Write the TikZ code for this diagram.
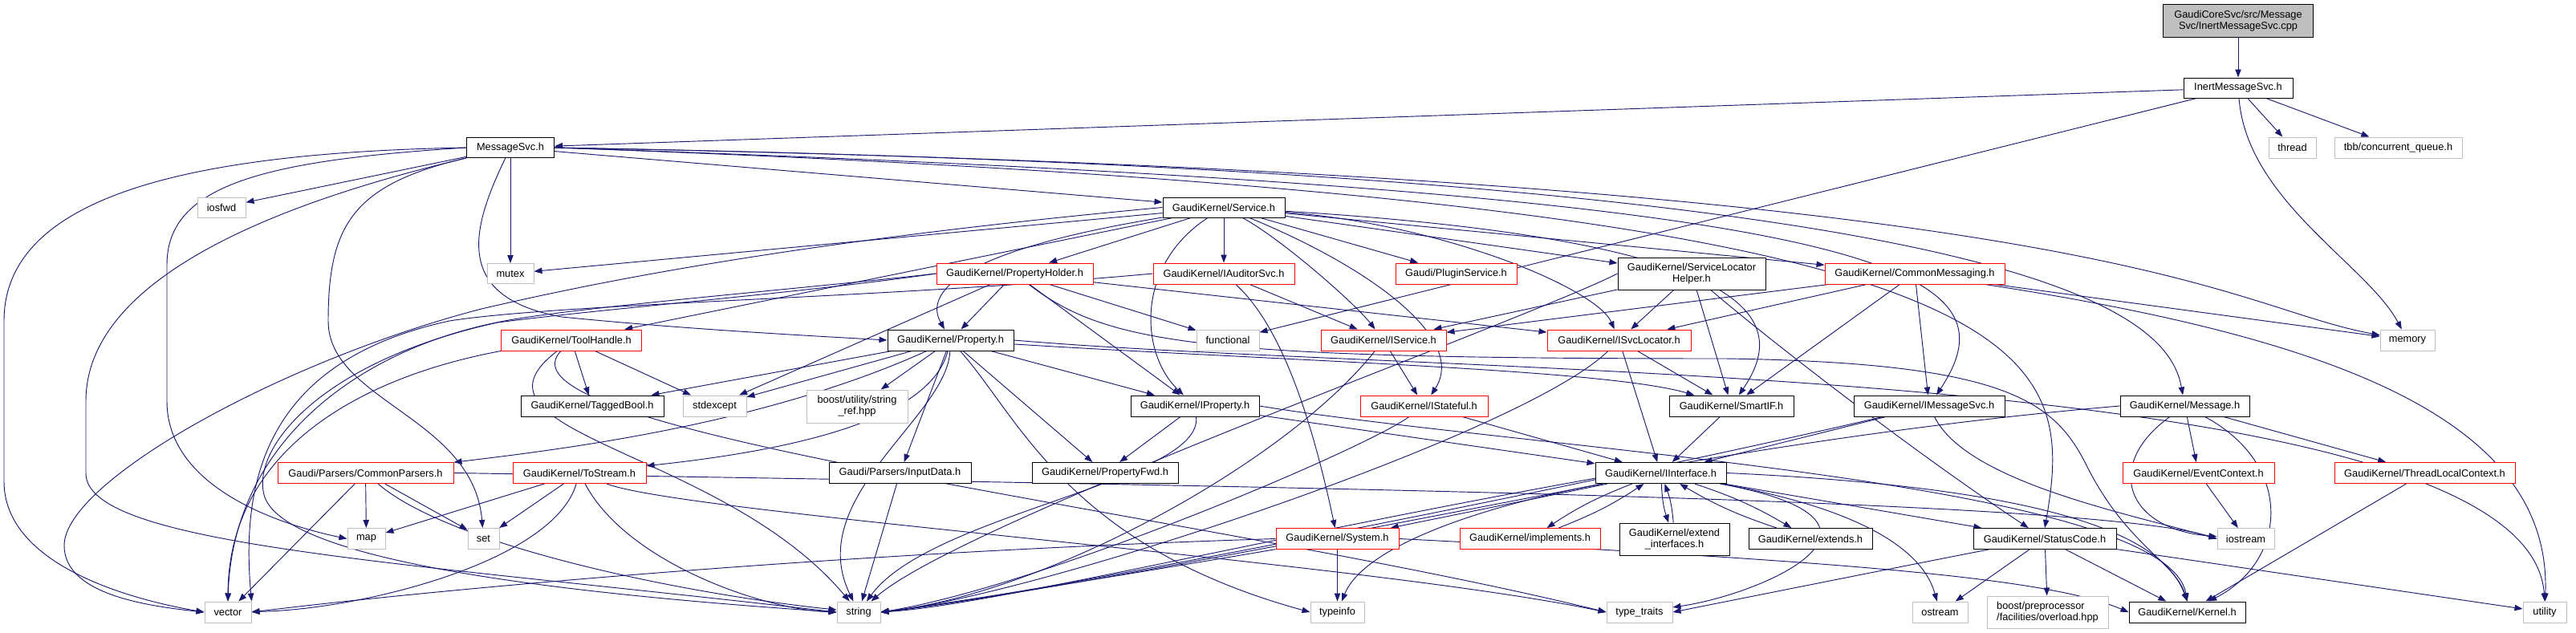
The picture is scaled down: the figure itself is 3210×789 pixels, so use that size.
\documentclass[tikz,border=0pt]{standalone}
\usepackage{fontspec}
\setmainfont{Liberation Sans}
\usetikzlibrary{arrows.meta}
\definecolor{edgec}{HTML}{191970}
\definecolor{graybd}{HTML}{BFBFBF}
\pgfdeclarelayer{bglayer}
\pgfdeclarelayer{edgelayer}
\pgfsetlayers{bglayer,edgelayer,main}
\tikzset{
 wd/.style={minimum width=#1*0.75pt},
 ht/.style={minimum height=#1*0.75pt},
 box/.style={rectangle, inner sep=0pt, fill=white, line width=0.75pt, align=center, text=black, minimum height=19.5pt},
 nb/.style={box, draw=black},
 nr/.style={box, draw=red},
 ng/.style={box, draw=graybd},
 nroot/.style={box, draw=black, fill=graybd},
 edg/.style={draw=edgec, line width=0.7pt, -{Triangle[length=7.5pt,width=5.5pt]}},
}
\begin{document}
\begin{tikzpicture}[x=0.75pt,y=-0.75pt,font=\fontsize{9.6}{10.7}\selectfont]
\begin{pgfonlayer}{bglayer}
\fill[white] (0,0) rectangle (3210,789);
\end{pgfonlayer}
\useasboundingbox (0,0) rectangle (3210,789);
% row A-C
\node[nroot, wd=187, ht=41] (cpp) at (2789,26) {GaudiCoreSvc/src/Message\\Svc/InertMessageSvc.cpp};
\node[nb, wd=136, ht=25] (inert) at (2789,109.5) {InertMessageSvc.h};
\node[ng, wd=59] (thread) at (2856.5,184) {thread};
\node[ng, wd=159] (tbb) at (2988.5,184) {tbb/concurrent\_queue.h};
\node[nb, wd=109, ht=25] (msvc) at (636,184) {MessageSvc.h};
% row D
\node[ng, wd=60, ht=25] (iosfwd) at (276,258.5) {iosfwd};
\node[nb, wd=152, ht=25] (service) at (1525,258.5) {GaudiKernel/Service.h};
% row E
\node[ng, wd=58, ht=25] (mutex) at (636,341) {mutex};
\node[nr, wd=195] (pholder) at (1264.5,341) {GaudiKernel/PropertyHolder.h};
\node[nr, wd=176] (iaud) at (1525,341) {GaudiKernel/IAuditorSvc.h};
\node[nr, wd=151] (plugin) at (1814.5,341) {Gaudi/PluginService.h};
\node[nb, wd=184, ht=40] (slh) at (2108,341) {GaudiKernel/ServiceLocator\\Helper.h};
\node[nr, wd=224] (cmsg) at (2386,341) {GaudiKernel/CommonMessaging.h};
% row F
\node[nr, wd=175] (toolh) at (712,424) {GaudiKernel/ToolHandle.h};
\node[nb, wd=157] (prop) at (1184.5,424) {GaudiKernel/Property.h};
\node[ng, wd=78] (functional) at (1530,424) {functional};
\node[nr, wd=156] (iserv) at (1724,424) {GaudiKernel/IService.h};
\node[nr, wd=179] (isvcl) at (2017.5,424) {GaudiKernel/ISvcLocator.h};
\node[ng, wd=68] (memory) at (3000,424) {memory};
% row G
\node[nb, wd=178] (tagged) at (738,506) {GaudiKernel/TaggedBool.h};
\node[ng, wd=79] (stdexcept) at (890.5,506) {stdexcept};
\node[ng, wd=126, ht=41] (bref) at (1068,506.5) {boost/utility/string\\\_ref.hpp};
\node[nb, wd=160] (iprop) at (1489,506) {GaudiKernel/IProperty.h};
\node[nr, wd=159] (istate) at (1774.5,506) {GaudiKernel/IStateful.h};
\node[nb, wd=155] (smartif) at (2157.5,506) {GaudiKernel/SmartIF.h};
\node[nb, wd=188] (imsg) at (2404,506) {GaudiKernel/IMessageSvc.h};
\node[nb, wd=161] (message) at (2722.5,506) {GaudiKernel/Message.h};
% row H
\node[nr, wd=219] (cparsers) at (455.5,589.5) {Gaudi/Parsers/CommonParsers.h};
\node[nr, wd=166] (tostream) at (722,589.5) {GaudiKernel/ToStream.h};
\node[nb, wd=177] (input) at (1121.5,589.5) {Gaudi/Parsers/InputData.h};
\node[nb, wd=182] (pfwd) at (1377,589.5) {GaudiKernel/PropertyFwd.h};
\node[nb, wd=163] (iiface) at (2069.5,589.5) {GaudiKernel/IInterface.h};
\node[nr, wd=189] (evctx) at (2739.5,589.5) {GaudiKernel/EventContext.h};
\node[nr, wd=225] (tlctx) at (3021.5,589.5) {GaudiKernel/ThreadLocalContext.h};
% row I
\node[ng, wd=47] (map) at (456.5,671.5) {map};
\node[ng, wd=39] (set) at (602.5,671.5) {set};
\node[nr, wd=153] (system) at (1666.5,671.5) {GaudiKernel/System.h};
\node[nr, wd=175] (implements) at (1906.5,671.5) {GaudiKernel/implements.h};
\node[nb, wd=137, ht=40] (extendif) at (2086.5,672) {GaudiKernel/extend\\\_interfaces.h};
\node[nb, wd=154] (extends) at (2256,671.5) {GaudiKernel/extends.h};
\node[nb, wd=178] (statuscode) at (2548,671.5) {GaudiKernel/StatusCode.h};
\node[ng, wd=71] (iostream) at (2798.5,671.5) {iostream};
% row J
\node[ng, wd=58] (vector) at (284,763) {vector};
\node[ng, wd=54] (string) at (1070,763) {string};
\node[ng, wd=67] (typeinfo) at (1666.5,763) {typeinfo};
\node[ng, wd=82] (typetraits) at (2043,763) {type\_traits};
\node[ng, wd=69] (ostream) at (2417.5,763) {ostream};
\node[ng, wd=151, ht=40, align=left] (boostpp) at (2551.5,763) {boost/preprocessor\\/facilities/overload.hpp};
\node[nb, wd=145] (kernel) at (2725.5,763) {GaudiKernel/Kernel.h};
\node[ng, wd=54] (utility) at (3171,763) {utility};

\begin{pgfonlayer}{edgelayer}
% cpp / InertMessageSvc
\draw[edg] (cpp) -- (inert);
\draw[edg] (inert) -- (msvc);
\draw[edg] (inert) -- (thread);
\draw[edg] (inert) -- (tbb);
\draw[edg] (inert) .. controls (2800,250) and (2950,330) .. (memory);
\draw[edg] (inert) -- (functional);
% MessageSvc
\draw[edg] (msvc) -- (iosfwd);
\draw[edg] (msvc) -- (mutex);
\draw[edg] (msvc.west) .. controls (250,190) and (5,240) .. (5,400) -- (5,600) .. controls (5,700) and (150,745) .. (vector.west);
\draw[edg] (msvc.west) .. controls (330,200) and (208,230) .. (208,330) -- (208,500) .. controls (208,600) and (330,650) .. (map.west);
\draw[edg] (msvc) .. controls (400,240) and (107,330) .. (107,500) -- (107,590) .. controls (107,680) and (500,700) .. (string.west);
\draw[edg] (msvc) .. controls (440,230) and (409,280) .. (409,400) .. controls (409,500) and (590,520) .. (set);
\draw[edg] (msvc) .. controls (590,280) and (560,370) .. (700,395) .. controls (850,410) and (1000,418) .. (prop.west);
\draw[edg] (msvc) -- (service);
\draw[edg] (msvc.east) .. controls (2350,240) and (2520,330) .. (imsg);
\draw[edg] (msvc.east) .. controls (2500,215) and (2700,380) .. (message);
\draw[edg] (msvc.east) .. controls (2550,250) and (2590,420) .. (statuscode.north);
\draw[edg] (msvc.east) .. controls (2650,220) and (2760,380) .. (memory);
% Service
\draw[edg] (service) -- (mutex);
\draw[edg] (service.west) .. controls (1000,300) and (750,350) .. (600,385) .. controls (350,450) and (80,600) .. (80,680) .. controls (80,740) and (180,755) .. (vector.west);
\draw[edg] (service) -- (pholder);
\draw[edg] (service) -- (iaud);
\draw[edg] (service) -- (plugin);
\draw[edg] (service) -- (slh);
\draw[edg] (service) -- (cmsg);
\draw[edg] (service) -- (toolh);
\draw[edg] (service) .. controls (1150,320) and (1160,380) .. (prop);
\draw[edg] (service) .. controls (1415,330) and (1420,440) .. (iprop);
\draw[edg] (service) .. controls (1600,300) and (1690,380) .. (iserv);
\draw[edg] (service) .. controls (1700,330) and (1830,420) .. (istate);
\draw[edg] (service) .. controls (1800,280) and (1990,360) .. (isvcl);
\draw[edg] (service) .. controls (2200,300) and (2230,400) .. (smartif);
% PropertyHolder
\draw[edg] (pholder.west) .. controls (1000,360) and (750,380) .. (640,398) .. controls (450,430) and (290,550) .. (vector.north);
\draw[edg] (pholder.west) .. controls (1000,365) and (750,385) .. (620,402) .. controls (400,450) and (310,560) .. (330,620) .. controls (360,700) and (700,740) .. (string.west);
\draw[edg] (pholder) -- (stdexcept);
\draw[edg] (pholder) -- (prop);
\draw[edg] (pholder) -- (iprop);
\draw[edg] (pholder) -- (functional);
\draw[edg] (pholder) -- (isvcl);
\draw[edg] (pholder) .. controls (1380,430) and (1500,447) .. (2150,447) .. controls (2500,452) and (2560,500) .. (2600,580) .. controls (2650,680) and (2710,700) .. (kernel.north);
% IAuditorSvc
\draw[edg] (iaud) -- (iserv);
\draw[edg] (iaud) .. controls (1590,400) and (1630,500) .. (system);
\draw[edg] (iaud.west) .. controls (1100,372) and (700,378) .. (560,400) .. controls (330,450) and (300,600) .. (vector.north east);
% ServiceLocatorHelper
\draw[edg] (slh) -- (iserv);
\draw[edg] (slh) -- (isvcl);
\draw[edg] (slh) -- (smartif);
\draw[edg] (slh) .. controls (2200,420) and (2380,560) .. (statuscode);
\draw[edg] (slh.west) .. controls (1900,400) and (1200,650) .. (string);
% CommonMessaging
\draw[edg] (cmsg) -- (iserv);
\draw[edg] (cmsg) -- (isvcl);
\draw[edg] (cmsg) -- (smartif);
\draw[edg] (cmsg) -- (imsg);
\draw[edg] (cmsg) -- (memory);
\draw[edg] (cmsg) .. controls (2900,420) and (3180,520) .. (utility);
% ToolHandle
\draw[edg] (toolh) -- (tagged);
\draw[edg] (toolh) -- (stdexcept);
\draw[edg] (toolh.south west) .. controls (450,470) and (285,560) .. (vector.north);
\draw[edg] (toolh) .. controls (560,540) and (900,560) .. (string);
\draw[edg] (toolh) .. controls (600,540) and (1500,640) .. (typetraits.west);
% Property
\draw[edg] (prop) -- (tagged);
\draw[edg] (prop) -- (stdexcept);
\draw[edg] (prop) -- (bref);
\draw[edg] (prop) .. controls (950,530) and (700,560) .. (cparsers);
\draw[edg] (prop) .. controls (1160,520) and (1000,560) .. (tostream);
\draw[edg] (prop) -- (input);
\draw[edg] (prop) -- (pfwd);
\draw[edg] (prop) -- (iprop);
\draw[edg] (prop) .. controls (1180,520) and (1000,620) .. (string);
\draw[edg] (prop) .. controls (1270,520) and (1330,680) .. (typeinfo.west);
\draw[edg] (prop) .. controls (1600,450) and (2000,460) .. (smartif);
\draw[edg] (prop.east) .. controls (1800,470) and (3150,450) .. (utility.north);
% CommonParsers
\draw[edg] (cparsers) -- (map);
\draw[edg] (cparsers) -- (set);
\draw[edg] (cparsers) -- (vector);
\draw[edg] (cparsers) .. controls (560,680) and (850,740) .. (string);
\draw[edg] (cparsers.east) .. controls (1500,605) and (2600,620) .. (iostream.west);
% ToStream
\draw[edg] (tostream) -- (map);
\draw[edg] (tostream) -- (set);
\draw[edg] (tostream) .. controls (690,700) and (450,760) .. (vector);
\draw[edg] (tostream) .. controls (780,700) and (950,760) .. (string.west);
\draw[edg] (tostream) .. controls (850,640) and (1700,700) .. (typetraits.west);
% InputData
\draw[edg] (input) -- (string);
% IService, ISvcLocator, IStateful, SmartIF
\draw[edg] (iserv) -- (istate);
\draw[edg] (iserv) .. controls (1600,580) and (1300,740) .. (string.east);
\draw[edg] (isvcl) -- (iiface);
\draw[edg] (isvcl) -- (smartif);
\draw[edg] (isvcl) .. controls (1900,540) and (1300,740) .. (string.east);
\draw[edg] (istate) -- (iiface);
\draw[edg] (istate) .. controls (1700,560) and (1300,730) .. (string.east);
\draw[edg] (smartif) -- (iiface);
% IMessageSvc
\draw[edg] (imsg) -- (iiface);
\draw[edg] (imsg) .. controls (2450,600) and (2650,640) .. (iostream.west);
\draw[edg] (imsg) .. controls (2000,600) and (1300,740) .. (string.east);
% IProperty
\draw[edg] (iprop) -- (iiface);
\draw[edg] (iprop) -- (pfwd);
\draw[edg] (iprop) .. controls (1500,600) and (1160,640) .. (string);
\draw[edg] (iprop.east) .. controls (1900,560) and (2700,600) .. (kernel.north);
% Message
\draw[edg] (message) -- (evctx);
\draw[edg] (message) -- (tlctx);
\draw[edg] (message) .. controls (2620,580) and (2650,660) .. (iostream);
\draw[edg] (message) .. controls (2860,580) and (2850,700) .. (kernel);
\draw[edg] (message.west) .. controls (2000,560) and (1300,750) .. (string.east);
\draw[edg] (evctx) -- (iostream);
\draw[edg] (tlctx) -- (kernel);
% IInterface
\draw[edg] (iiface) -- (system);
\draw[edg] (iiface) to[bend right=6] (implements);
\draw[edg] (implements) to[bend right=6] (iiface);
\draw[edg] (iiface) to[bend right=8] (extendif);
\draw[edg] (extendif) to[bend right=8] (iiface);
\draw[edg] (iiface) to[bend left=6] (extends);
\draw[edg] (extends) to[bend left=6] (iiface);
\draw[edg] (iiface) .. controls (1850,630) and (1700,680) .. (typeinfo);
\draw[edg] (iiface) .. controls (2400,650) and (2200,740) .. (typetraits);
\draw[edg] (iiface) -- (statuscode);
\draw[edg] (iiface.east) .. controls (2600,610) and (2700,680) .. (kernel.north);
\draw[edg] (iiface) .. controls (2350,640) and (2400,700) .. (ostream);
\draw[edg] (iiface) .. controls (1800,640) and (1300,740) .. (string.east);
% System
\draw[edg] (system) -- (typeinfo);
\draw[edg] (system.west) .. controls (1000,690) and (500,740) .. (vector.east);
\draw[edg] (system) .. controls (1500,700) and (1200,750) .. (string.east);
\draw[edg] (system.east) .. controls (2300,700) and (2550,720) .. (kernel.west);
% StatusCode
\draw[edg] (statuscode) -- (ostream);
\draw[edg] (statuscode) -- (boostpp);
\draw[edg] (statuscode) -- (kernel);
\draw[edg] (statuscode) -- (utility);
\draw[edg] (statuscode) .. controls (2400,700) and (2200,740) .. (typetraits.east);
\end{pgfonlayer}
\end{tikzpicture}
\end{document}
